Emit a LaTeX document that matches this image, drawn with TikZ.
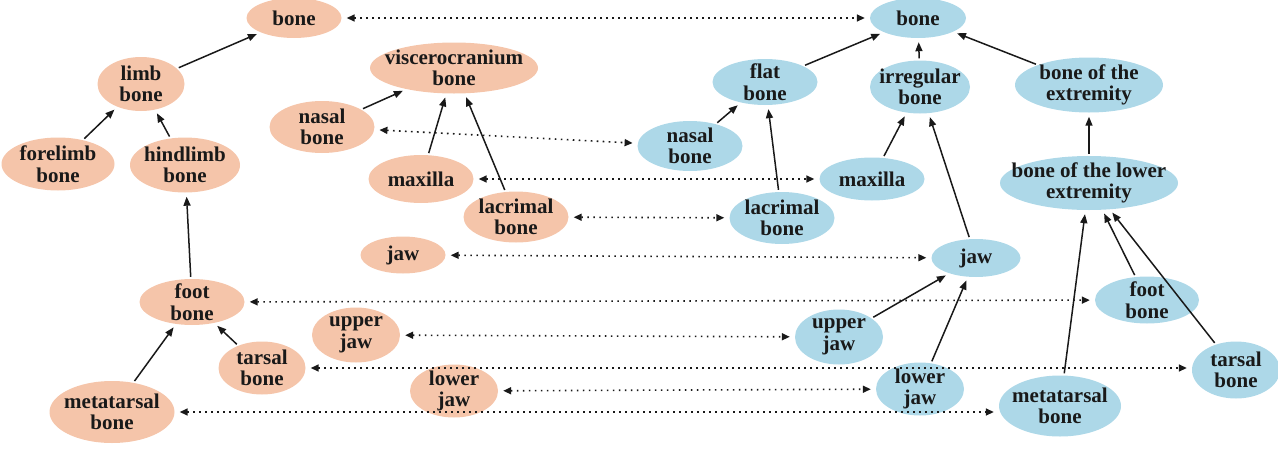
\documentclass[tikz,border=0pt]{standalone}
\usepackage{fontspec}
\setmainfont{Liberation Serif}
\usetikzlibrary{shapes.geometric,arrows.meta}
\definecolor{peach}{RGB}{245,197,170}
\definecolor{skyb}{RGB}{173,216,232}
\definecolor{ink}{RGB}{25,25,25}
\begin{document}
\begin{tikzpicture}[x=1pt,y=-1pt,
  % ellipse size is fixed by minimum width/height only
  concept/.style={ellipse, inner xsep=-45pt, inner ysep=-14pt, align=center, text=ink,
    font=\fontsize{21}{21.5}\selectfont\bfseries},
  lnode/.style={concept, fill=peach},
  rnode/.style={concept, fill=skyb},
  isa/.style={-{Triangle[length=9pt,width=7pt]}, line width=1.5pt, draw=ink,
    shorten <=2pt, shorten >=4pt},
  corr/.style={{Triangle[length=8pt,width=7pt]}-{Triangle[length=8pt,width=7pt]},
    line width=1.6pt, draw=ink, dash pattern=on 1.6pt off 4.4pt,
    shorten <=5pt, shorten >=5pt}]
\useasboundingbox (0,0) rectangle (1278,453);

% left taxonomy
\node[lnode, minimum width=95, minimum height=40] (lbone) at (294,18) {bone};
\node[lnode, minimum width=87, minimum height=54] (llimb) at (141,84) {limb\\bone};
\node[lnode, minimum width=113, minimum height=53] (lfore) at (58,164) {forelimb\\bone};
\node[lnode, minimum width=110, minimum height=55] (lhind) at (185,165) {hindlimb\\bone};
\node[lnode, minimum width=105, minimum height=46] (lfoot) at (192,302) {foot\\bone};
\node[lnode, minimum width=87, minimum height=53] (ltarsal) at (262,368) {tarsal\\bone};
\node[lnode, minimum width=125, minimum height=62] (lmeta) at (112,412) {metatarsal\\bone};
\node[lnode, minimum width=168, minimum height=51] (lvisc) at (454,68) {viscerocranium\\bone};
\node[lnode, minimum width=105, minimum height=52] (lnasal) at (322,127) {nasal\\bone};
\node[lnode, minimum width=105, minimum height=48] (lmax) at (421,179) {maxilla};
\node[lnode, minimum width=105, minimum height=51] (llacr) at (516,217) {lacrimal\\bone};
\node[lnode, minimum width=85, minimum height=37] (ljaw) at (403,255) {jaw};
\node[lnode, minimum width=88, minimum height=55] (lupper) at (356,335) {upper\\jaw};
\node[lnode, minimum width=88, minimum height=53] (llower) at (454,391) {lower\\jaw};

% right taxonomy
\node[rnode, minimum width=96, minimum height=40] (rbone) at (918,18) {bone};
\node[rnode, minimum width=105, minimum height=46] (rflat) at (765,82) {flat\\bone};
\node[rnode, minimum width=100, minimum height=53] (rirr) at (920,87) {irregular\\bone};
\node[rnode, minimum width=148, minimum height=55] (rext) at (1089,85) {bone of the\\extremity};
\node[rnode, minimum width=105, minimum height=50] (rnasal) at (690,146) {nasal\\bone};
\node[rnode, minimum width=105, minimum height=43] (rmax) at (872,179) {maxilla};
\node[rnode, minimum width=178, minimum height=54] (rlow) at (1089,183) {bone of the lower\\extremity};
\node[rnode, minimum width=105, minimum height=52] (rlacr) at (782,218) {lacrimal\\bone};
\node[rnode, minimum width=89, minimum height=38] (rjaw) at (976,258) {jaw};
\node[rnode, minimum width=104, minimum height=47] (rfoot) at (1147,300) {foot\\bone};
\node[rnode, minimum width=88, minimum height=55] (rupper) at (839,337) {upper\\jaw};
\node[rnode, minimum width=88, minimum height=57] (rtarsal) at (1236,370) {tarsal\\bone};
\node[rnode, minimum width=88, minimum height=53] (rlower) at (920,389) {lower\\jaw};
\node[rnode, minimum width=122, minimum height=61] (rmeta) at (1060,406) {metatarsal\\bone};

% is-a links, left
\draw[isa] (llimb) -- (lbone);
\draw[isa] (lfore) -- (llimb);
\draw[isa] (lhind) -- (llimb);
\draw[isa] (lfoot) -- (lhind);
\draw[isa] (lmeta) -- (lfoot);
\draw[isa] (ltarsal) -- (lfoot);
\draw[isa] (lnasal) -- (lvisc);
\draw[isa] (lmax) -- (lvisc);
\draw[isa] (llacr) -- (lvisc);

% is-a links, right
\draw[isa] (rflat) -- (rbone);
\draw[isa] (rirr) -- (rbone);
\draw[isa] (rext) -- (rbone);
\draw[isa] (rnasal) -- (rflat);
\draw[isa] (rlacr) -- (rflat);
\draw[isa] (rmax) -- (rirr);
\draw[isa] (rjaw) -- (rirr);
\draw[isa] (rlow) -- (rext);
\draw[isa] (rupper) -- (rjaw);
\draw[isa] (rlower) -- (rjaw);
\draw[isa] (rmeta) -- (rlow);
\draw[isa] (rfoot) -- (rlow);
\draw[isa] (rtarsal) -- (rlow);

% correspondences
\draw[corr] (lbone) -- (rbone);
\draw[corr] (lnasal) -- (rnasal);
\draw[corr] (lmax) -- (rmax);
\draw[corr] (llacr) -- (rlacr);
\draw[corr] (ljaw) -- (rjaw);
\draw[corr] (lfoot) -- (rfoot);
\draw[corr] (lupper) -- (rupper);
\draw[corr] (ltarsal.east) -- (ltarsal.east -| rtarsal.west);
\draw[corr] (llower) -- (rlower);
\draw[corr] (lmeta.east) -- (lmeta.east -| rmeta.west);
\end{tikzpicture}
\end{document}
